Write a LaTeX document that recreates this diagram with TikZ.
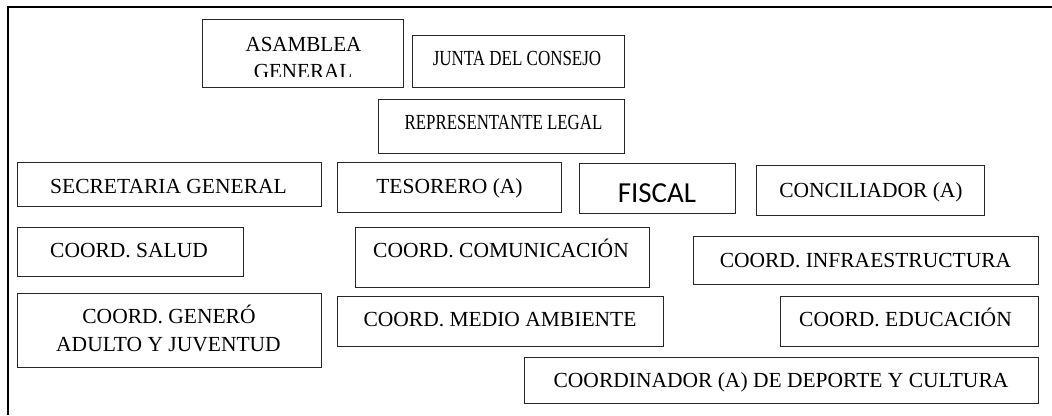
\documentclass[tikz,border=0pt]{standalone}
\usepackage{fontspec}
\setmainfont{Liberation Serif}
\newfontfamily\fiscalfont{Carlito}
\tikzset{
  box/.style={draw=black!85, line width=1.1pt, inner sep=0pt, anchor=north west},
  lbl/.style={font=\fontsize{21.5}{28}\selectfont, anchor=base, inner sep=0pt, text=black},
  frame/.style={draw=black, line width=2pt}
}
\begin{document}
\begin{tikzpicture}[x=1pt,y=-1pt]
\useasboundingbox (0,0) rectangle (1052,415);
% outer frame (top and left only)
\coordinate (fbl) at (7.5,415);
\coordinate (ftl) at (7.5,7);
\coordinate (ftr) at (1052,7);
\draw[frame] (fbl) -- (ftl) -- (ftr);

% boxes
\node[box, minimum width=201pt, minimum height=68pt] (asam) at (202,19) {};
\node[box, minimum width=212pt, minimum height=52pt] (junta) at (412,35) {};
\node[box, minimum width=246pt, minimum height=54pt] (rep) at (378,99) {};
\node[box, minimum width=304pt, minimum height=44pt] (sec) at (17,162) {};
\node[box, minimum width=224pt, minimum height=50pt] (tes) at (337,162) {};
\node[box, minimum width=156pt, minimum height=50pt] (fis) at (579,163) {};
\node[box, minimum width=228pt, minimum height=50pt] (conc) at (756,165) {};
\node[box, minimum width=226pt, minimum height=49pt] (salud) at (17,227) {};
\node[box, minimum width=294pt, minimum height=60pt] (comu) at (355,227) {};
\node[box, minimum width=345pt, minimum height=48pt] (infra) at (693,236) {};
\node[box, minimum width=304pt, minimum height=74pt] (gen) at (17,293) {};
\node[box, minimum width=326pt, minimum height=50pt] (medio) at (337,296) {};
\node[box, minimum width=258pt, minimum height=50pt] (edu) at (780,296) {};
\node[box, minimum width=514pt, minimum height=46pt] (dep) at (524,357) {};

% texts
\begin{scope}
\clip (202,19) rectangle (403,76);
\node[lbl] (asamA) at (303.5,51) {\scalebox{0.98}[1]{ASAMBLEA}};
\node[lbl] (asamB) at (303,78) {\scalebox{0.98}[1]{GENERAL}};
\end{scope}
\node[lbl] (juntaT) at (517,65.5) {\scalebox{0.79}[1]{JUNTA DEL CONSEJO}};
\node[lbl] (repT) at (503.5,129) {\scalebox{0.784}[1]{REPRESENTANTE LEGAL}};
\node[lbl] (secT) at (168.5,193) {SECRETARIA GENERAL};
\node[lbl] (tesT) at (449.5,193) {TESORERO (A)};
\node[lbl, font=\fiscalfont\fontsize{29}{34}\selectfont] (fisT) at (657,202) {FISCAL};
\node[lbl] (concT) at (871,197) {CONCILIADOR (A)};
\node[lbl] (saludT) at (129,257) {COORD. SALUD};
\node[lbl] (comuT) at (501,257) {COORD. COMUNICACIÓN};
\node[lbl] (infraT) at (865.5,267) {COORD. INFRAESTRUCTURA};
\node[lbl] (genA) at (169,323.3) {COORD. GENERÓ};
\node[lbl] (genB) at (168.5,351.7) {ADULTO Y JUVENTUD};
\node[lbl] (medioT) at (500,326) {COORD. MEDIO AMBIENTE};
\node[lbl] (eduT) at (905.5,326) {COORD. EDUCACIÓN};
\node[lbl] (depT) at (781,387) {COORDINADOR (A) DE DEPORTE Y CULTURA};
\end{tikzpicture}
\end{document}
